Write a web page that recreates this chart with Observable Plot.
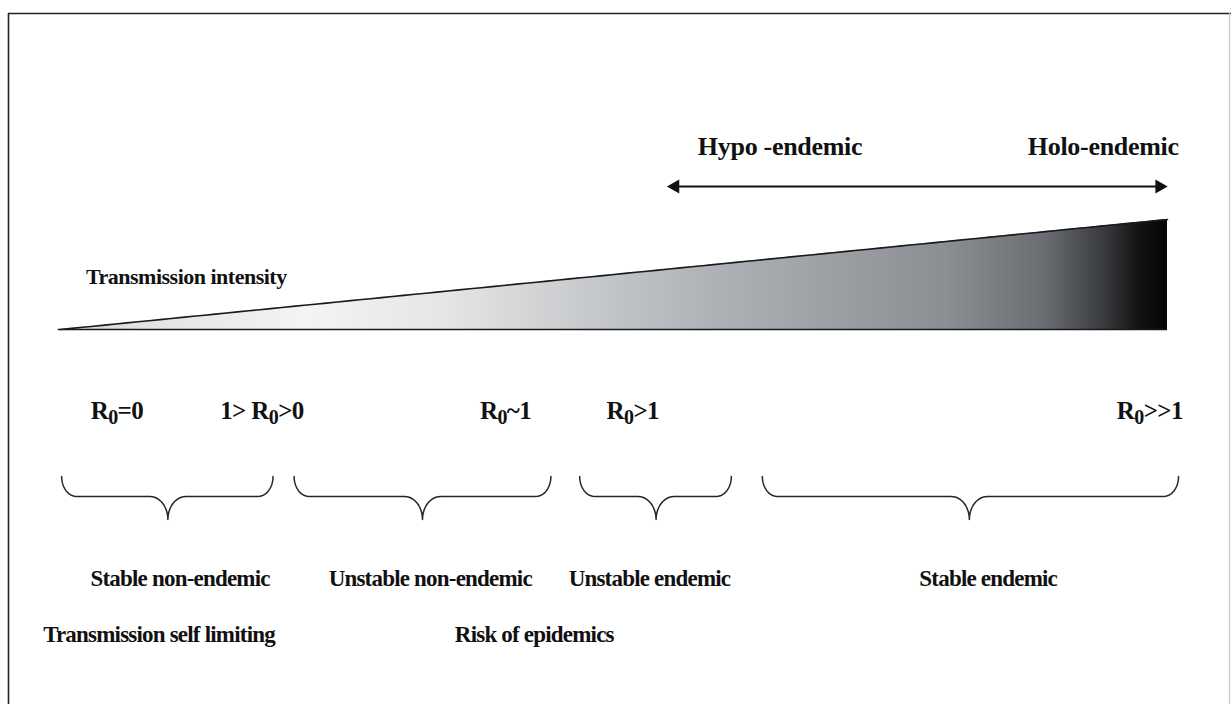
<!DOCTYPE html>
<html>
<head>
<meta charset="utf-8">
<script src="https://cdn.jsdelivr.net/npm/d3@7"></script>
<script src="https://cdn.jsdelivr.net/npm/@observablehq/plot@0.6"></script>
<style>
  html, body { margin: 0; padding: 0; background: #fff; }
  #chart svg { display: block; }
  .endemic text { letter-spacing: -0.3px; }
  .title text { letter-spacing: -0.5px; }
  .r0 text { letter-spacing: -0.6px; }
  .zone text, .outcome text { letter-spacing: -0.8px; }
</style>
</head>
<body>
<div id="chart"></div>
<script>
// ---- Data (intensity axis: 0 = no transmission, 100 = maximum) ----
const axisTitle = "Transmission intensity";
const axisTitleAt = 2.3;

const endemicityNames = ["Hypo -endemic", "Holo-endemic"];
const endemicityAt = [65.0, 94.2];
const endemicityRange = [54.8, 100];

const r0Labels = ["R₀=0", "1> R₀>0", "R₀~1", "R₀>1", "R₀>>1"];
const r0At = [5.1, 18.2, 40.2, 51.7, 98.4];

const zoneNames = ["Stable non-endemic", "Unstable non-endemic", "Unstable endemic", "Stable endemic"];
const zoneStart = [0.1, 21.1, 46.9, 63.4];
const zoneEnd = [19.2, 44.3, 60.6, 101.0];
const zoneTip = [9.7, 32.7, 53.8, 82.1];
const zoneLabelAt = [10.8, 33.4, 53.2, 83.8];

const outcomeNames = ["Transmission self limiting", "Risk of epidemics"];
const outcomeAt = [8.9, 42.8];

const gradientStops = [
  [0.00, "#d8d8d8"], [0.04, "#dedede"], [0.22, "#f4f4f4"], [0.35, "#e4e5e6"],
  [0.44, "#cfd1d3"], [0.58, "#b0b4b8"], [0.71, "#9a9ea2"], [0.80, "#8b8f93"],
  [0.89, "#696c70"], [0.94, "#3c3e41"], [0.975, "#121214"], [1.00, "#050505"]
];

// ---- Layout (pixels) ----
const W = 1231, H = 704;
const X0 = 60, X1 = 1167;            // intensity 0..100 on screen
const BASE = 329, TOP = 219;          // wedge base line and height at max intensity
const ROW = {endemic: 146, arrow: 186, title: 276, r0: 410, braceTop: 476, braceLine: 496, braceTip: 519, zone: 578, outcome: 634};
const FRAME = {left: 8, top: 13, right: 1229};
const FONT = "'Liberation Serif', 'Times New Roman', Times, serif";

const xPx = d3.scaleLinear().domain([0, 100]).range([X0, X1]);

// wedge: height grows linearly with intensity
const wedge = d3.range(0, 101, 1).map(i => ({i, top: BASE - (BASE - TOP) * i / 100}));

// curly brace outline built from each zone's start, end and tip
function brace(k) {
  const a = xPx(zoneStart[k]), b = xPx(zoneEnd[k]), m = xPx(zoneTip[k]);
  const t0 = ROW.braceTop, hl = ROW.braceLine, tb = ROW.braceTip;
  const rx = 15, cw = 18, pts = [];
  const N = 12;
  for (let j = 0; j <= N; j++) { const t = j / N * Math.PI / 2; pts.push([a + rx - rx * Math.cos(t), t0 + (hl - t0) * Math.sin(t)]); }
  for (let j = 0; j <= N; j++) { const t = j / N * Math.PI / 2; pts.push([m - cw + cw * Math.sin(t), tb - (tb - hl) * Math.cos(t)]); }
  for (let j = N; j >= 0; j--) { const t = j / N * Math.PI / 2; pts.push([m + cw - cw * Math.sin(t), tb - (tb - hl) * Math.cos(t)]); }
  for (let j = N; j >= 0; j--) { const t = j / N * Math.PI / 2; pts.push([b - rx + rx * Math.cos(t), t0 + (hl - t0) * Math.sin(t)]); }
  return pts.map(([px, py]) => ({zone: zoneNames[k], x: xPx.invert(px), y: py}));
}
const braces = zoneNames.flatMap((_, k) => brace(k));

const textStyle = {fill: "#111", fontWeight: "bold", fontFamily: FONT, stroke: "none"};
const head = {y: ROW.arrow, symbol: "triangle2", r: 6.8, fill: "#111", stroke: "none"};

const plot = Plot.plot({
  width: W, height: H,
  margin: 0,
  x: {type: "linear", domain: [0, 100], range: [X0, X1], axis: null},
  y: {type: "linear", domain: [0, H], range: [0, H], axis: null},
  style: {background: "#fff", overflow: "visible"},
  marks: [
    // page frame: dark left and top, faint right
    Plot.ruleX([xPx.invert(FRAME.left)], {y1: FRAME.top, y2: H, stroke: "#222", strokeWidth: 1.6}),
    Plot.ruleY([FRAME.top], {x1: xPx.invert(FRAME.left), x2: xPx.invert(W), stroke: "#222", strokeWidth: 1.6}),
    Plot.ruleX([xPx.invert(FRAME.right)], {y1: FRAME.top, y2: H, stroke: "#c8c8c8", strokeWidth: 1.2}),
    // wedge
    Plot.areaY(wedge, {x: "i", y1: BASE, y2: "top", fill: "url(#intensityGradient)", curve: "linear"}),
    Plot.line(wedge, {x: "i", y: "top", stroke: "#1a1a1a", strokeWidth: 1.6}),
    Plot.ruleY([BASE], {x1: -0.2, x2: 100, stroke: "#1a1a1a", strokeWidth: 1.6}),
    Plot.text([axisTitle], {x: axisTitleAt, y: ROW.title, text: d => d, textAnchor: "start", fontSize: 22, className: "title", ...textStyle}),
    // endemicity arrow
    Plot.ruleY([ROW.arrow], {x1: endemicityRange[0] + 0.5, x2: endemicityRange[1] - 0.5, stroke: "#111", strokeWidth: 1.8}),
    Plot.dot([endemicityRange[0]], {x: d => d, ...head, rotate: -90, dx: 8}),
    Plot.dot([endemicityRange[1]], {x: d => d, ...head, rotate: 90, dx: -8}),
    Plot.text(endemicityNames, {x: (d, i) => endemicityAt[i], y: ROW.endemic, text: d => d, fontSize: 26, className: "endemic", ...textStyle}),
    // R0 labels
    Plot.text(r0Labels, {x: (d, i) => r0At[i], y: ROW.r0, text: d => d, fontSize: 25, className: "r0", ...textStyle}),
    // braces
    Plot.line(braces, {x: "x", y: "y", z: "zone", stroke: "#262626", strokeWidth: 1.5, curve: "linear"}),
    Plot.text(zoneNames, {x: (d, i) => zoneLabelAt[i], y: ROW.zone, text: d => d, fontSize: 23, className: "zone", ...textStyle}),
    Plot.text(outcomeNames, {x: (d, i) => outcomeAt[i], y: ROW.outcome, text: d => d, fontSize: 23, className: "outcome", ...textStyle})
  ]
});

// gradient definition for the wedge
const svg = d3.select(plot);
const grad = svg.insert("defs", ":first-child").append("linearGradient")
  .attr("id", "intensityGradient").attr("x1", "0").attr("x2", "1").attr("y1", "0").attr("y2", "0");
gradientStops.forEach(([o, c]) => grad.append("stop").attr("offset", o).attr("stop-color", c));

// render the R0 subscripts as real lowered text
svg.selectAll("text").each(function () {
  const el = d3.select(this);
  const s = this.textContent;
  if (!s.includes("₀")) return;
  const parts = s.split("₀");
  el.text(null);
  parts.forEach((p, k) => {
    if (k > 0) el.append("tspan").attr("dy", "0.25em").attr("font-size", "0.8em").text("0");
    if (p) el.append("tspan").attr("dy", k > 0 ? "-0.2em" : null).text(p);
  });
});

document.getElementById("chart").appendChild(plot);
</script>
</body>
</html>
